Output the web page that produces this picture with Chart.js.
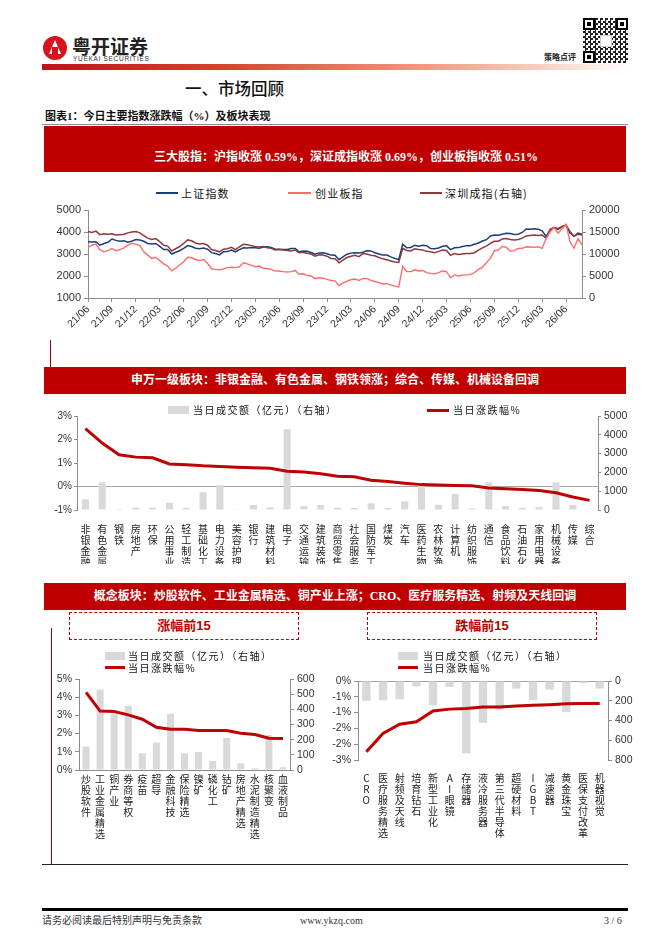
<!DOCTYPE html>
<html lang="zh-CN">
<head>
<meta charset="utf-8">
<title>市场回顾</title>
<script src="https://cdn.jsdelivr.net/npm/chart.js@4.4.1/dist/chart.umd.min.js"></script>
<style>
  html, body { margin: 0; padding: 0; background: #fff; }
  body { width: 662px; height: 936px; position: relative; overflow: hidden; font-family: "Noto Sans CJK SC", sans-serif; color: #222; }
  .a { position: absolute; white-space: nowrap; }
  canvas { position: absolute; }
  .banner { position: absolute; left: 44px; width: 582px; background: #C00000; color: #fff; font-weight: 700; font-size: 12px; text-align: center; white-space: nowrap; font-family: "Liberation Serif", "Noto Sans CJK SC", serif; }
  .lg { position: absolute; font-size: 10px; letter-spacing: 1.5px; line-height: 12px; color: #111; white-space: nowrap; }
  .lg1 { position: absolute; font-size: 11px; letter-spacing: 1.2px; line-height: 14px; color: #111; white-space: nowrap; }
  .sw { position: absolute; }
  .box { position: absolute; border: 1px dashed #C00000; color: #C00000; font-weight: 700; font-size: 13px; text-align: center; font-family: "Liberation Sans", "Noto Sans CJK SC", sans-serif; }
  .finder { position: absolute; width: 8px; height: 8px; border: 2px solid #000; background: #fff; }
  .finder::after { content: ""; position: absolute; left: 2px; top: 2px; width: 4px; height: 4px; background: #000; }
</style>
</head>
<body>

<!-- 页眉 -->
<div class="a" style="left:43px;top:36px;width:24px;height:24px;border-radius:50%;background:#D7131F;"></div>
<div class="a" style="left:49px;top:40px;width:0;height:0;border-left:6px solid transparent;border-right:6px solid transparent;border-bottom:14px solid #fff;"></div>
<div class="a" style="left:52px;top:47px;width:6px;height:9px;background:#D7131F;"></div>
<div class="a" style="left:72px;top:34px;font-size:19px;font-weight:700;color:#222;line-height:24px;">粤开证券</div>
<div class="a" style="left:73px;top:55px;font-size:6.5px;letter-spacing:0.7px;color:#333;font-family:'Liberation Sans',sans-serif;line-height:8px;">YUEKAI SECURITIES</div>
<div class="a" style="left:544px;top:51px;font-size:8px;font-weight:700;color:#222;line-height:11px;">策略点评</div>
<div class="a" style="left:583px;top:18px;width:45px;height:45px;background-color:#fff;background-image:conic-gradient(#222 25%, #fff 0 50%, #222 0 75%, #fff 0);background-size:5px 5px;"></div>
<div class="finder" style="left:583px;top:18px;"></div>
<div class="finder" style="left:616px;top:18px;"></div>
<div class="finder" style="left:583px;top:51px;"></div>
<div class="a" style="left:600px;top:35px;width:10px;height:10px;background:#fff;border:1px solid #ccc;"></div>
<div class="a" style="left:42px;top:64px;width:586px;height:6px;background:linear-gradient(to right,#C0101A 0%,#D8402A 30%,#EE9A80 65%,#F8D8CC 88%,#fff 100%);"></div>

<div class="a" style="left:185px;top:77px;font-size:16.5px;font-weight:500;color:#111;line-height:22px;">一、市场回顾</div>
<div class="a" style="left:45px;top:108px;font-size:11px;font-weight:700;color:#111;line-height:16px;font-family:'Liberation Serif','Noto Sans CJK SC',serif;">图表1：今日主要指数涨跌幅（%）及板块表现</div>
<div class="a" style="left:42px;top:124px;width:586px;height:1px;background:#8C8C8C;"></div>

<div class="banner" style="top:126px;height:46px;line-height:16px;"><div style="padding-top:23px;padding-left:22px;">三大股指：沪指收涨 0.59%，深证成指收涨 0.69%，创业板指收涨 0.51%</div></div>

<!-- 图1 图例 -->
<div class="sw" style="left:156px;top:192px;width:22px;height:2px;background:#1B3E7C;"></div>
<div class="lg1" style="left:181px;top:186px;">上证指数</div>
<div class="sw" style="left:288px;top:192px;width:23px;height:2px;background:#FF6B6B;"></div>
<div class="lg1" style="left:315px;top:186px;">创业板指</div>
<div class="sw" style="left:420px;top:192px;width:22px;height:2px;background:#8E3A3A;"></div>
<div class="lg1" style="left:445px;top:186px;">深圳成指(右轴)</div>
<canvas id="c1" width="600" height="140" style="left:40px;top:200px;"></canvas>

<div class="a" style="left:50px;top:340px;width:1px;height:27px;background:#A00000;"></div>
<div class="banner" style="top:367px;height:27px;line-height:27px;">申万一级板块：非银金融、有色金属、钢铁领涨；综合、传媒、机械设备回调</div>

<!-- 图2 -->
<canvas id="c2" width="600" height="158" style="left:40px;top:406px;"></canvas>
<div class="sw" style="left:168px;top:406px;width:21px;height:8px;background:#D9D9D9;"></div>
<div class="lg" style="left:193px;top:404px;">当日成交额（亿元）（右轴）</div>
<div class="sw" style="left:427px;top:409px;width:22px;height:3px;background:#C00000;"></div>
<div class="lg" style="left:453px;top:404px;">当日涨跌幅%</div>

<div class="banner" style="top:583px;height:27px;line-height:27px;">概念板块：炒股软件、工业金属精选、铜产业上涨；CRO、医疗服务精选、射频及天线回调</div>

<div class="box" style="left:69px;top:612px;width:228px;height:26px;line-height:26px;">涨幅前15</div>
<div class="box" style="left:367px;top:612px;width:228px;height:26px;line-height:26px;">跌幅前15</div>
<div class="a" style="left:51px;top:628px;width:1px;height:236px;background:#A00000;"></div>

<!-- 图3 -->
<canvas id="c3" width="285" height="175" style="left:40px;top:669px;"></canvas>
<div class="sw" style="left:105px;top:652px;width:20px;height:8px;background:#D9D9D9;"></div>
<div class="lg" style="left:128px;top:650px;">当日成交额（亿元）（右轴）</div>
<div class="sw" style="left:105px;top:666px;width:20px;height:3px;background:#C00000;"></div>
<div class="lg" style="left:128px;top:662px;">当日涨跌幅%</div>

<!-- 图4 -->
<canvas id="c4" width="315" height="173" style="left:325px;top:671px;"></canvas>
<div class="sw" style="left:398px;top:652px;width:20px;height:8px;background:#D9D9D9;"></div>
<div class="lg" style="left:423px;top:650px;">当日成交额（亿元）（右轴）</div>
<div class="sw" style="left:398px;top:666px;width:20px;height:3px;background:#C00000;"></div>
<div class="lg" style="left:423px;top:662px;">当日涨跌幅%</div>

<!-- 页脚 -->
<div class="a" style="left:42px;top:864px;width:586px;height:1px;background:#222;"></div>
<div class="a" style="left:42px;top:908px;width:586px;height:3px;background:#000;"></div>
<div class="a" style="left:42px;top:914px;font-size:10px;color:#333;line-height:14px;font-family:'Liberation Serif','Noto Sans CJK SC',serif;">请务必阅读最后特别声明与免责条款</div>
<div class="a" style="left:300px;top:914px;font-size:10px;color:#333;line-height:14px;font-family:'Liberation Serif',serif;">www.ykzq.com</div>
<div class="a" style="left:604px;top:914px;font-size:10px;color:#333;line-height:14px;font-family:'Liberation Serif',serif;">3 / 6</div>

<script>
// 图1：主要指数走势（半月取点）
const months = ['21/06','21/07','21/08','21/09','21/10','21/11','21/12',
  '22/01','22/02','22/03','22/04','22/05','22/06','22/07','22/08','22/09','22/10','22/11','22/12',
  '23/01','23/02','23/03','23/04','23/05','23/06','23/07','23/08','23/09','23/10','23/11','23/12',
  '24/01','24/02','24/03','24/04','24/05','24/06','24/07','24/08','24/09','24/10','24/11','24/12',
  '25/01','25/02','25/03','25/04','25/05','25/06','25/07','25/08','25/09','25/10','25/11','25/12',
  '26/01','26/02','26/03','26/04','26/05','26/06','26/07','26/08'];
const quarterTicks = ['21/06','21/09','21/12','22/03','22/06','22/09','22/12','23/03','23/06','23/09','23/12',
  '24/03','24/06','24/09','24/12','25/03','25/06','25/09','25/12','26/03','26/06'];
const dates = months.flatMap(m => [m + '/01', m + '/16']).slice(0, 125);

const shIndex = [3560,3550, 3560,3400, 3480,3530, 3680,3620, 3580,3600, 3540,3580, 3660,3640,
  3580,3480, 3460,3480, 3350,3200, 3200,3000, 3080,3150, 3260,3380, 3340,3260, 3240,3270, 3220,3060, 3020,2960, 3100,3110, 3180,3100,
  3200,3280, 3270,3290, 3280,3260, 3320,3330, 3300,3220, 3220,3200, 3210,3250, 3250,3100, 3140,3120, 3070,2990, 3050,3060, 3010,2950,
  2940,2740, 2870,2990, 3040,3060, 3050,3080, 3150,3140, 3060,3000, 2960,2950, 2870,2800, 2740,3450, 3280,3300, 3400,3350, 3400,3380,
  3250,3240, 3270,3350, 3370,3200, 3280,3290, 3340,3380, 3380,3440, 3500,3590, 3650,3820, 3860,3850, 3900,3940, 3930,3890, 3900,3980,
  4140,4120, 4150,4130, 4050,3800, 4090,4200, 4120,4250, 4300,3950, 3800,3950, 3900];
const cybIndex = [3300,3400, 3450,3200, 3100,3150, 3250,3150, 3200,3280, 3400,3480, 3450,3380,
  3100,2950, 2800,2850, 2700,2550, 2450,2230, 2350,2500, 2650,2850, 2830,2750, 2700,2750, 2580,2330, 2300,2280, 2320,2380, 2400,2380,
  2420,2600, 2550,2480, 2420,2450, 2350,2330, 2300,2220, 2230,2200, 2180,2200, 2250,2080, 2100,2030, 2000,1880, 1920,1900, 1850,1800,
  1780,1560, 1680,1770, 1830,1860, 1800,1890, 1880,1800, 1750,1700, 1640,1650, 1600,1540, 1500,2450, 2200,2200, 2280,2230, 2250,2150,
  2120,2100, 2150,2230, 2200,1920, 2050,2000, 2040,2050, 2060,2150, 2300,2400, 2600,2800, 3150,3180, 3350,3300, 3120,3150, 3250,3260,
  3330,3320, 3300,3330, 3260,3700, 4000,4200, 3950,4150, 4350,3560, 3260,3700, 3410];
const szIndex = [15100,14900, 15200,14400, 14600,14500, 14600,14300, 14400,14500, 14800,15000, 15100,14800,
  14200,13600, 13300,13500, 12800,12000, 11800,10700, 11200,11700, 12400,13200, 13000,12500, 12300,12400, 12000,11000, 10800,10500, 11100,11200, 11500,11000,
  11600,12200, 12100,11900, 11700,11600, 11700,11400, 11300,10900, 11000,10900, 10800,10700, 10900,10300, 10400,10150, 10000,9500, 9800,9750, 9500,9000,
  8900,8000, 8600,9200, 9500,9700, 9400,10100, 10000,9700, 9600,9200, 8900,8700, 8400,8200, 8100,11300, 10800,10700, 11200,11000, 10900,10600,
  10500,10300, 10600,10900, 10800,9700, 10100,9900, 10000,10100, 10100,10300, 10900,11400, 11800,12400, 12900,12900, 13400,13500, 13300,13200, 13300,13600,
  14100,14200, 14300,14200, 14300,13600, 15600,16000, 15800,16200, 16600,15100, 14000,14500, 14300];

// 图2：申万一级行业
const swNames = ['非银金融','有色金属','钢铁','房地产','环保','公用事业','轻工制造','基础化工','电力设备','美容护理','银行',
  '建筑材料','电子','交通运输','建筑装饰','商贸零售','社会服务','国防军工','煤炭','汽车','医药生物','农林牧渔','计算机',
  '纺织服饰','通信','食品饮料','石油石化','家用电器','机械设备','传媒','综合'];
const swChange = [2.46,1.85,1.35,1.25,1.22,0.96,0.93,0.88,0.85,0.82,0.80,0.78,0.65,0.62,0.54,0.44,0.41,0.27,0.21,0.14,
  0.08,0.06,0.04,0.03,-0.06,-0.10,-0.13,-0.17,-0.27,-0.45,-0.59];
const swTurnover = [570,1470,50,120,120,390,120,950,1320,20,265,140,4300,210,265,120,105,355,105,460,
  1300,280,850,90,1470,210,120,160,1470,265,20];

// 图3：概念板块涨幅前15
const riseNames = ['炒股软件','工业金属精选','铜产业','券商等权','疫苗','超导','金融科技','保险精选','镍矿','磷化工','钴矿',
  '房地产精选','水泥制造精选','核聚变','血液制品'];
const riseChange = [4.26,3.24,3.21,3.03,2.79,2.35,2.24,2.24,2.17,2.17,2.17,2.02,1.95,1.75,1.73];
const riseTurnover = [155,530,370,424,110,181,371,110,119,60,212,44,11,230,18];
const riseTurnoverTicks = [0,100,200,300,400,500,600];

// 图4：概念板块跌幅前15
const dropNames = ['CRO','医疗服务精选','射频及天线','培育钻石','新型工业化','AI眼镜','存储器','液冷服务器','第三代半导体',
  '超硬材料','IGBT','减速器','黄金珠宝','医保支付改革','机器视觉'];
const dropChange = [-2.24,-1.66,-1.37,-1.29,-0.95,-0.89,-0.87,-0.82,-0.82,-0.79,-0.77,-0.75,-0.72,-0.71,-0.71];
const dropTurnover = [200,195,185,54,245,60,733,424,290,77,195,87,313,20,77];
const dropTickValues = [0,-0.5,-1,-1.5,-2,-2.5];
const dropTickLabels = ['0%','-1%','-1%','-2%','-2%','-3%'];

Chart.defaults.animation = false;
Chart.defaults.font.family = '"Liberation Sans", "Noto Sans CJK SC", sans-serif';
Chart.defaults.font.size = 10;
Chart.defaults.color = '#333';
Chart.defaults.plugins.legend.display = false;
Chart.defaults.plugins.tooltip.enabled = false;

const fixW = w => s => { s.width = w; };
const fixH = h => s => { s.height = h; };
const plain = v => String(Math.round(v));
const pct = v => Math.round(v) + '%';
const axisLine = { color: '#8C8C8C', width: 1 };
const sideGrid = { drawOnChartArea: false, tickLength: 4, tickColor: '#8C8C8C' };
const catFont = { family: '"Noto Sans CJK SC", sans-serif', size: 10, lineHeight: 1.1 };
const zeroLine = c => (c.tick && Math.abs(c.tick.value) < 1e-9) ? '#A6A6A6' : 'rgba(0,0,0,0)';

new Chart(document.getElementById('c1'), {
  type: 'line',
  data: {
    labels: dates,
    datasets: [
      { label: '创业板指', data: cybIndex, yAxisID: 'y', borderColor: '#FF6B6B', borderWidth: 1.4, pointRadius: 0 },
      { label: '深圳成指(右轴)', data: szIndex, yAxisID: 'y2', borderColor: '#8E3A3A', borderWidth: 1.5, pointRadius: 0 },
      { label: '上证指数', data: shIndex, yAxisID: 'y', borderColor: '#1B3E7C', borderWidth: 1.5, pointRadius: 0 }
    ]
  },
  options: {
    responsive: false,
    layout: { padding: { top: 10 } },
    scales: {
      x: {
        grid: sideGrid,
        border: axisLine,
        ticks: { autoSkip: false, minRotation: 45, maxRotation: 45, padding: 1, font: { size: 10.5 }, callback: v => dates[v].slice(0, 5) },
        afterBuildTicks: s => {
          s.ticks = s.ticks.filter(t => dates[t.value].endsWith('/01') && quarterTicks.includes(dates[t.value].slice(0, 5)));
        },
        afterFit: fixH(42)
      },
      y: { position: 'left', min: 1000, max: 5000, ticks: { autoSkip: false, count: 5, padding: 3, font: { size: 11 }, callback: plain }, grid: sideGrid, border: axisLine, afterFit: fixW(48) },
      y2: { position: 'right', min: 0, max: 20000, ticks: { autoSkip: false, count: 5, padding: 3, font: { size: 11 }, callback: plain }, grid: sideGrid, border: axisLine, afterFit: fixW(58) }
    }
  }
});

new Chart(document.getElementById('c2'), {
  type: 'bar',
  data: {
    labels: swNames.map(n => [...n]),
    datasets: [
      { type: 'line', label: '当日涨跌幅%', data: swChange, yAxisID: 'y', borderColor: '#C00000', borderWidth: 3, pointRadius: 0, order: 0 },
      { type: 'bar', label: '当日成交额（亿元）（右轴）', data: swTurnover, yAxisID: 'y2', backgroundColor: '#D9D9D9', barPercentage: 0.42, categoryPercentage: 1, order: 1 }
    ]
  },
  options: {
    responsive: false,
    layout: { padding: { top: 10 } },
    scales: {
      x: { grid: { display: false }, border: { display: false }, ticks: { autoSkip: false, maxRotation: 0, minRotation: 0, padding: 6, font: catFont, color: '#222' }, afterFit: fixH(54) },
      y: { position: 'left', min: -1, max: 3, ticks: { autoSkip: false, count: 5, padding: 2, callback: pct }, grid: { color: zeroLine, tickColor: '#8C8C8C', tickLength: 3 }, border: axisLine, afterFit: fixW(37) },
      y2: { position: 'right', min: 0, max: 5000, ticks: { autoSkip: false, count: 6, padding: 3, font: { size: 10.5 }, callback: plain }, grid: { drawOnChartArea: false, tickLength: 3, tickColor: '#8C8C8C' }, border: axisLine, afterFit: fixW(42) }
    }
  }
});

new Chart(document.getElementById('c3'), {
  type: 'bar',
  data: {
    labels: riseNames.map(n => [...n]),
    datasets: [
      { type: 'line', label: '当日涨跌幅%', data: riseChange, yAxisID: 'y', borderColor: '#C00000', borderWidth: 3, pointRadius: 0, order: 0 },
      { type: 'bar', label: '当日成交额（亿元）（右轴）', data: riseTurnover, yAxisID: 'y2', backgroundColor: '#D9D9D9', barPercentage: 0.5, categoryPercentage: 1, order: 1 }
    ]
  },
  options: {
    responsive: false,
    layout: { padding: { top: 10 } },
    scales: {
      x: { grid: { drawOnChartArea: false, drawTicks: false }, border: axisLine, ticks: { autoSkip: false, maxRotation: 0, minRotation: 0, padding: 4, font: catFont, color: '#222' }, afterFit: fixH(74) },
      y: { position: 'left', min: 0, max: 5, ticks: { autoSkip: false, count: 6, padding: 3, font: { size: 10.5 }, callback: pct }, grid: sideGrid, border: axisLine, afterFit: fixW(39) },
      y2: {
        position: 'right', min: 0, max: 600,
        ticks: { autoSkip: false, padding: 3, font: { size: 10.5 }, callback: plain },
        afterBuildTicks: s => { s.ticks = riseTurnoverTicks.map(v => ({ value: v })); },
        grid: sideGrid, border: axisLine, afterFit: fixW(35)
      }
    }
  }
});

new Chart(document.getElementById('c4'), {
  type: 'bar',
  data: {
    labels: dropNames.map(n => [...n]),
    datasets: [
      { type: 'line', label: '当日涨跌幅%', data: dropChange, yAxisID: 'y', borderColor: '#C00000', borderWidth: 3, pointRadius: 0, order: 0 },
      { type: 'bar', label: '当日成交额（亿元）（右轴）', data: dropTurnover, yAxisID: 'y2', backgroundColor: '#D9D9D9', barPercentage: 0.5, categoryPercentage: 1, order: 1 }
    ]
  },
  options: {
    responsive: false,
    layout: { padding: { top: 10 } },
    scales: {
      x: { grid: { display: false }, border: { display: false }, ticks: { autoSkip: false, maxRotation: 0, minRotation: 0, padding: 5, font: catFont, color: '#222' }, afterFit: fixH(84) },
      y: {
        position: 'left', min: -2.5, max: 0,
        ticks: { autoSkip: false, count: 6, padding: 3, font: { size: 10.5 }, callback: v => dropTickLabels[dropTickValues.findIndex(t => Math.abs(t - v) < 1e-6)] },
        grid: { color: zeroLine, tickColor: '#8C8C8C', tickLength: 4 }, border: axisLine, afterFit: fixW(33)
      },
      y2: { position: 'right', reverse: true, min: 0, max: 800, ticks: { autoSkip: false, count: 5, padding: 3, font: { size: 10.5 }, callback: plain }, grid: sideGrid, border: axisLine, afterFit: fixW(32) }
    }
  }
});
</script>
</body>
</html>
